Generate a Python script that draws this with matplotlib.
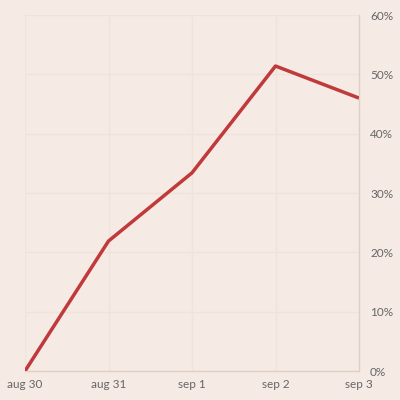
import matplotlib
matplotlib.use("Agg")
from matplotlib import pyplot as plt
from matplotlib.ticker import FuncFormatter

dates = ["aug 30", "aug 31", "sep 1", "sep 2", "sep 3"]
values = [0.0, 21.9, 33.4, 51.4, 46.0]
y_ticks = [0, 10, 20, 30, 40, 50, 60]

bg = "#f5eae4"
fig = plt.figure(figsize=(4, 4), dpi=100, facecolor=bg)
ax = fig.add_axes([0.0625, 0.0725, 0.835, 0.89], facecolor=bg)

x = list(range(len(dates)))
ax.plot(x, values, color="#c0393b", linewidth=2.5, solid_capstyle="butt", zorder=3)

ax.set_xlim(0, len(dates) - 1)
ax.set_ylim(0, 60)
ax.set_xticks(x)
ax.set_xticklabels(dates)
ax.set_yticks(y_ticks)
ax.yaxis.set_major_formatter(FuncFormatter(lambda v, p: f"{int(v)}%"))
ax.yaxis.tick_right()

ax.grid(True, color="#f0e4da", linewidth=1)
for s in ["top", "left"]:
    ax.spines[s].set_visible(False)
for s in ["bottom", "right"]:
    ax.spines[s].set_color("#ddd0c4")
    ax.spines[s].set_linewidth(1)

ax.tick_params(length=0, labelsize=8.5, colors="#666666", labelfontfamily="Lato")
ax.tick_params(axis="x", pad=6)
ax.tick_params(axis="y", pad=8)

fig.savefig("out.png", dpi=100, facecolor=bg)
